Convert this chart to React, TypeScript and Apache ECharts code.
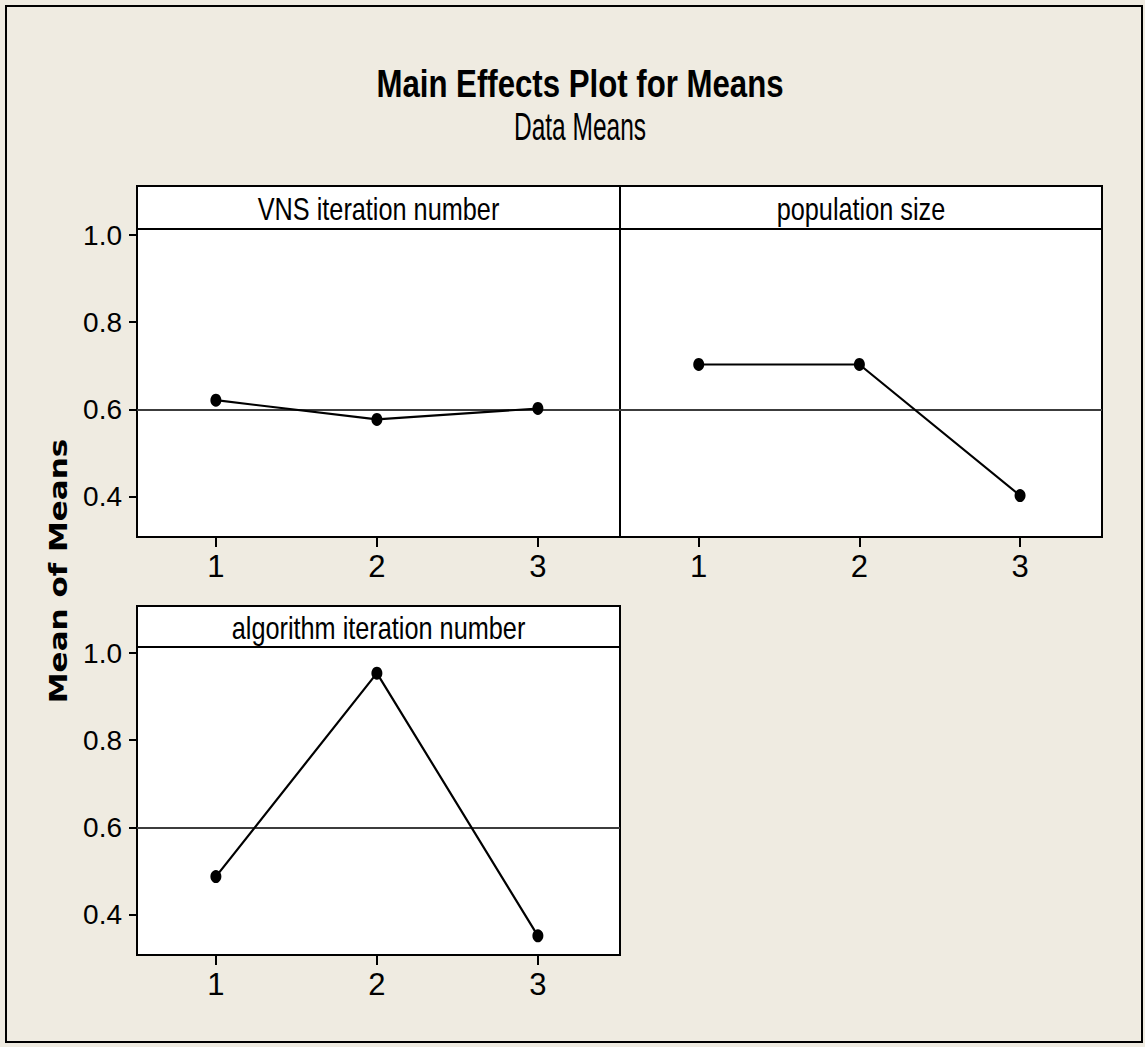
import React, { useEffect, useRef } from "react";
import * as echarts from "echarts";

const levels = [1, 2, 3];
const vnsMeans = [0.621, 0.577, 0.602];
const popMeans = [0.703, 0.703, 0.402];
const algMeans = [0.487, 0.954, 0.351];
const grandMean = 0.597;
const yTicks = [0.4, 0.6, 0.8, 1.0];
const panelTitles = ["VNS iteration number", "population size", "algorithm iteration number"];
const mainTitle = "Main Effects Plot for Means";
const subTitle = "Data Means";
const yAxisTitle = "Mean of Means";

const BG = "#EFEBE1";
const TEXT_FONT = "'Liberation Sans', Arial, sans-serif";
const TICK_FONT = "'Liberation Sans', Arial, sans-serif";

export default function App() {
  const ref = useRef<HTMLDivElement>(null);
  useEffect(() => {
    if (!ref.current) return;
    const chart = echarts.init(ref.current, null, { renderer: "svg" });
    const panels = [
      { left: 137, top: 229, width: 483, height: 308, values: vnsMeans, showY: true, head: { y: 186, h: 43 } },
      { left: 620, top: 229, width: 482, height: 308, values: popMeans, showY: false, head: { y: 186, h: 43 } },
      { left: 137, top: 647, width: 483, height: 308, values: algMeans, showY: true, head: { y: 606, h: 41 } },
    ];
    const grid = panels.map((p) => ({
      left: p.left, top: p.top, width: p.width, height: p.height,
      show: true, backgroundColor: "#ffffff", borderColor: "#000000", borderWidth: 2,
      containLabel: false,
    }));
    const xAxis = panels.map((p, i) => ({
      type: "value", gridIndex: i, min: 0.51, max: 3.51,
      axisLine: { show: false },
      splitLine: { show: false },
      axisTick: { show: true, customValues: levels, length: 10, inside: false, lineStyle: { color: "#000", width: 2 } },
      axisLabel: {
        show: true, customValues: levels, margin: 14, color: "#000", fontSize: 31,
        fontFamily: TICK_FONT, formatter: (v: number) => String(v),
      },
    }));
    const yAxis = panels.map((p, i) => ({
      type: "value", gridIndex: i, min: 0.307, max: 1.014,
      axisLine: { show: false },
      splitLine: { show: false },
      axisTick: { show: p.showY, customValues: yTicks, length: 8, lineStyle: { color: "#000", width: 2 } },
      axisLabel: {
        show: p.showY, customValues: yTicks, margin: 15, color: "#000", fontSize: 28,
        fontFamily: TICK_FONT, formatter: (v: number) => v.toFixed(1),
      },
    }));
    const series = panels.map((p, i) => ({
      type: "line", xAxisIndex: i, yAxisIndex: i,
      data: levels.map((x, k) => [x, p.values[k]]),
      symbol: "circle", symbolSize: [11, 13], showSymbol: true,
      lineStyle: { color: "#000", width: 2.2 },
      itemStyle: { color: "#000" },
      z: 5,
      markLine: {
        silent: true, symbol: "none", label: { show: false },
        lineStyle: { color: "#3c3c3c", width: 2.2, type: "solid" },
        data: [{ yAxis: grandMean }],
        z: 3,
      },
    }));
    const graphic: any[] = [
      {
        type: "rect", shape: { x: 6, y: 6, width: 1136, height: 1036 },
        style: { fill: "none", stroke: "#000", lineWidth: 2 }, z: 1,
      },
      {
        type: "text", x: 580, y: 83, scaleX: 0.8,
        style: { text: mainTitle, fontSize: 39, fontWeight: "bold", fontFamily: TEXT_FONT, fill: "#000", align: "center", verticalAlign: "middle" },
      },
      {
        type: "text", x: 580, y: 127, scaleX: 0.645,
        style: { text: subTitle, fontSize: 38, fontFamily: TEXT_FONT, fill: "#000", align: "center", verticalAlign: "middle" },
      },
      {
        type: "text", x: 59, y: 571, rotation: Math.PI / 2, scaleY: 0.8,
        style: { text: yAxisTitle, fontSize: 31, fontWeight: "bold", fontFamily: "'DejaVu Sans', Verdana, sans-serif", fill: "#000", align: "center", verticalAlign: "middle" },
      },
    ];
    panels.forEach((p, i) => {
      graphic.push({
        type: "rect", shape: { x: p.left, y: p.head.y, width: p.width, height: p.head.h },
        style: { fill: "#ffffff", stroke: "#000", lineWidth: 2 }, z: 10,
      });
      graphic.push({
        type: "text", x: p.left + p.width / 2, y: p.head.y + p.head.h / 2 + 1, scaleX: 0.79, z: 11,
        style: { text: panelTitles[i], fontSize: 32, fontFamily: TEXT_FONT, fill: "#000", align: "center", verticalAlign: "middle" },
      });
    });
    chart.setOption({
      animation: false,
      backgroundColor: BG,
      grid, xAxis, yAxis, series, graphic,
    } as any);
    return () => chart.dispose();
  }, []);
  return <div ref={ref} style={{ position: "absolute", left: 0, top: 0, width: 1145, height: 1047 }} />;
}
